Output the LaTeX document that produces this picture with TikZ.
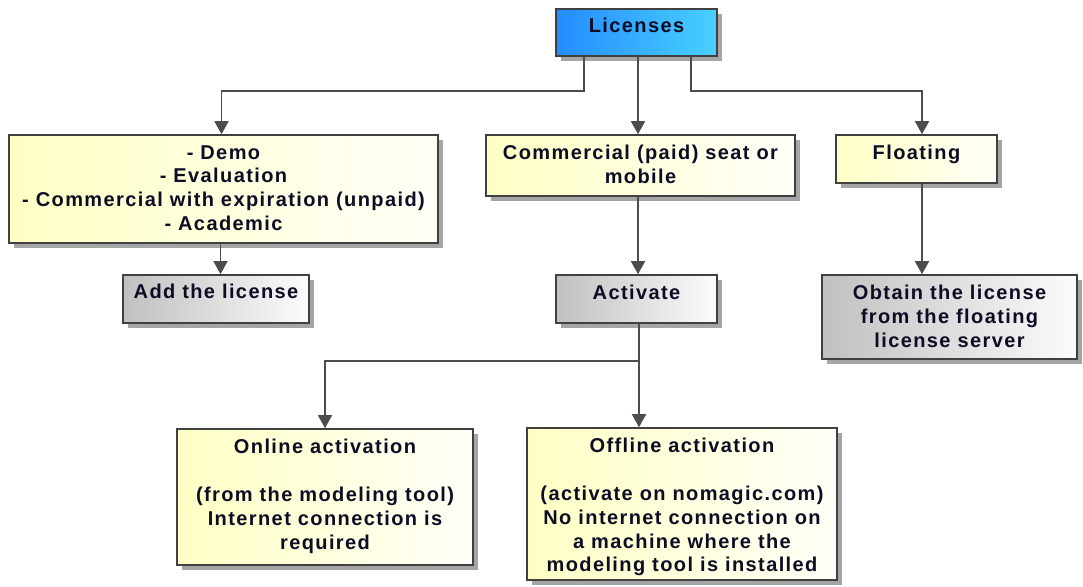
\documentclass[tikz,border=0pt]{standalone}
\usepackage{fontspec}
\setmainfont{Liberation Sans}[LetterSpace=7]
\usetikzlibrary{arrows.meta,shadows}
\definecolor{bluel}{RGB}{36,140,255}
\definecolor{bluer}{RGB}{72,208,255}
\definecolor{yell}{RGB}{255,255,196}
\definecolor{yelr}{RGB}{255,255,248}
\definecolor{gryl}{RGB}{192,192,192}
\definecolor{gryr}{RGB}{252,252,252}
\definecolor{bord}{RGB}{64,64,64}
\definecolor{linec}{RGB}{76,76,76}
\definecolor{shad}{RGB}{165,165,165}
\definecolor{txt}{RGB}{12,12,36}
\tikzset{
  box/.style={draw=bord, line width=1.6pt, inner sep=0pt,
    drop shadow={shadow xshift=5pt,shadow yshift=-5pt,fill=shad,opacity=1}},
  bluebox/.style={box, left color=bluel, right color=bluer},
  yelbox/.style={box, left color=yell, right color=yelr},
  grybox/.style={box, left color=gryl, right color=gryr},
  lbl/.style={anchor=north, inner sep=0pt, align=center, text=txt,
    font=\fontsize{20}{23.8}\selectfont\bfseries,
    execute at begin node=\rule{0pt}{18pt}},
  arr/.style={draw=linec, line width=1.6pt, -{Triangle[width=14pt,length=13pt]}},
}
\begin{document}
\begin{tikzpicture}[x=1pt,y=-1pt]
\useasboundingbox (0,0) rectangle (1083,586);
% boxes
\node (lic) [bluebox, minimum width=161, minimum height=47] at (636.5,32.5) {};
\node (demo) [yelbox, minimum width=429, minimum height=108] at (223.5,189) {};
\node (comm) [yelbox, minimum width=309, minimum height=61] at (640.5,165.5) {};
\node (float) [yelbox, minimum width=161, minimum height=48] at (916.5,159) {};
\node (add) [grybox, minimum width=186, minimum height=48] at (216,299) {};
\node (act) [grybox, minimum width=161, minimum height=48] at (636.5,299) {};
\node (obtain) [grybox, minimum width=255, minimum height=84] at (949.5,317) {};
\node (online) [yelbox, minimum width=296, minimum height=136] at (325,497) {};
\node (offline) [yelbox, minimum width=310, minimum height=152] at (682,504) {};
% texts
\node (licT) [lbl] at ([yshift=-6]lic.north) {Licenses};
\node (demoT) [lbl] at ([yshift=-11]demo.north) {- Demo\\- Evaluation\\- Commercial with expiration (unpaid)\\- Academic};
\node (commT) [lbl] at ([yshift=-11]comm.north) {Commercial (paid) seat or\\mobile};
\node (floatT) [lbl] at ([yshift=-7]float.north) {Floating};
\node (addT) [lbl] at ([yshift=-6]add.north) {Add the license};
\node (actT) [lbl] at ([yshift=-7]act.north) {Activate};
\node (obtainT) [lbl] at ([yshift=-11]obtain.north) {Obtain the license\\from the floating\\license server};
\node (onlineT) [lbl] at ([yshift=-11]online.north) {Online activation\\[23.8pt](from the modeling tool)\\Internet connection is\\required};
\node (offlineT) [lbl] at ([yshift=-11]offline.north) {Offline activation\\[23.8pt](activate on nomagic.com)\\No internet connection on\\a machine where the\\modeling tool is installed};
% connectors
\draw[arr] ([xshift=-52.5]lic.south) -- ++(0,34) -| ([xshift=-2]demo.north);
\draw[arr] ([xshift=1.5]lic.south) -- ([xshift=1.5]lic.south |- comm.north);
\draw[arr] ([xshift=54.5]lic.south) -- ++(0,34) -| ([xshift=5.5]float.north);
\draw[arr] ([xshift=-3]demo.south) -- ([xshift=-3]demo.south |- add.north);
\draw[arr] ([xshift=-2.5]comm.south) -- ([xshift=-2.5]comm.south |- act.north);
\draw[arr] ([xshift=5.5]float.south) -- ([xshift=5.5]float.south |- obtain.north);
\draw[arr] ([xshift=2.5]act.south) -- ++(0,37) -| (online.north);
\draw[arr] ([xshift=2.5]act.south) -- ([xshift=2.5]act.south |- offline.north);
\end{tikzpicture}
\end{document}
